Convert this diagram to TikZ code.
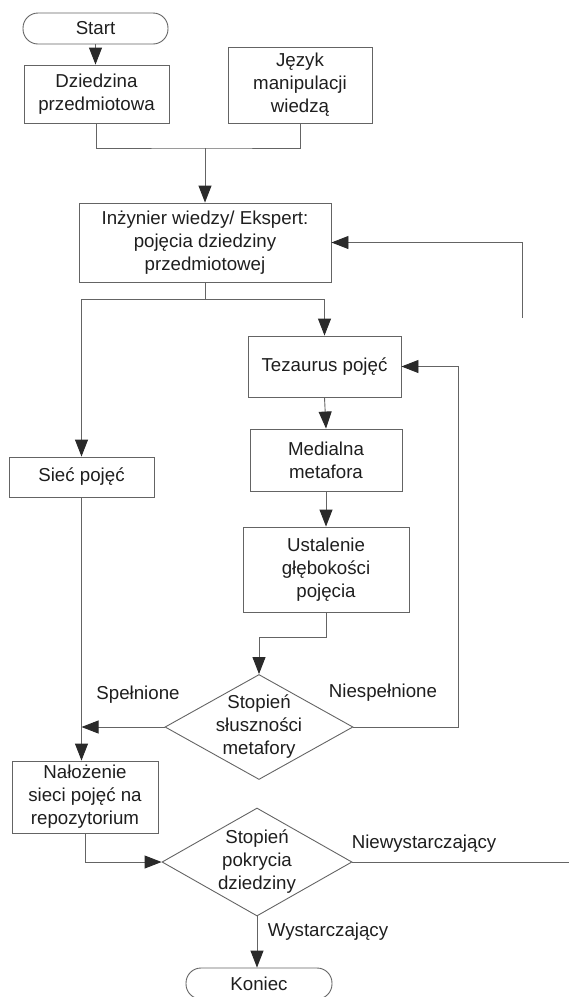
\documentclass[tikz,border=0pt]{standalone}
\usepackage{fontspec}
\setmainfont{Liberation Sans}
\usetikzlibrary{arrows.meta,shapes.geometric}
\definecolor{linec}{HTML}{646464}
\definecolor{textc}{HTML}{1E1E1E}
\definecolor{tipc}{HTML}{2A2A2A}
\begin{document}
\begin{tikzpicture}[x=1pt,y=-1pt,
  every node/.style={text=textc, font=\fontsize{18.7}{23}\selectfont},
  box/.style={draw=linec, line width=0.9pt, rectangle, inner sep=0pt, align=center},
  term/.style={box, rounded corners=15pt},
  dec/.style={draw=linec, line width=0.9pt, diamond, shape aspect=1.8, inner sep=0pt},
  lbl/.style={inner sep=0pt, align=center},
  conn/.style={draw=linec, line width=0.9pt},
  arr/.style={conn, -{Triangle[length=17pt,width=13pt,color=tipc]}}
]
\useasboundingbox (0,0) rectangle (569,997);

% process boxes and terminals
\node[term, minimum width=145pt, minimum height=31pt] (start) at (95.5,28.5) {Start};
\node[box, minimum width=145pt, minimum height=58pt] (dz) at (96.5,94) {Dziedzina\\przedmiotowa};
\node[box, minimum width=144pt, minimum height=76pt] (jez) at (300,85) {Język\\manipulacji\\wiedzą};
\node[box, minimum width=252pt, minimum height=79pt] (inz) at (205,242.5) {Inżynier wiedzy/ Ekspert:\\pojęcia dziedziny\\przedmiotowej};
\node[box, minimum width=153pt, minimum height=61pt] (tez) at (324.5,366.5) {Tezaurus pojęć};
\node[box, minimum width=152pt, minimum height=62pt] (med) at (326,460) {Medialna\\metafora};
\node[box, minimum width=166pt, minimum height=85pt] (ust) at (326,569.5) {Ustalenie\\głębokości\\pojęcia};
\node[box, minimum width=145pt, minimum height=40pt] (siec) at (81.5,477) {Sieć pojęć};
\node[box, minimum width=146pt, minimum height=72pt] (nal) at (85,797) {Nałożenie\\sieci pojęć na\\repozytorium};
\node[term, minimum width=146pt, minimum height=31pt] (kon) at (259,983.5) {Koniec};

% decisions
\node[dec, minimum width=188pt, minimum height=105pt] (d1) at (259,727) {};
\node[lbl] (d1t) at (d1.center) {Stopień\\słuszności\\metafory};
\node[dec, minimum width=190pt, minimum height=108pt] (d2) at (257,862) {};
\node[lbl] (d2t) at (d2.center) {Stopień\\pokrycia\\dziedziny};

% branch labels
\node[lbl] (lsp) at (138,695) {Spełnione};
\node[lbl] (lnsp) at (383,693) {Niespełnione};
\node[lbl] (lnw) at (424,844) {Niewystarczający};
\node[lbl] (lw) at (328,932) {Wystarczający};

% junction points
\coordinate (m1) at (205,148);
\coordinate (m2) at (205,299);
\coordinate (m3) at (326,637);
\coordinate (m4) at (458,727);
\coordinate (fb) at (522,318);
\coordinate (nw) at (569,862);

% connectors
\draw[arr] (start.south) -- (start.south |- dz.north);
\draw[conn] (dz.south) |- (m1) -| (jez.south);
\draw[arr] (m1) -- (inz.north);
\draw[conn] (inz.south) -- (m2);
\draw[arr] (m2) -| (siec.north);
\draw[arr] (m2) -| (tez.north);
\draw[arr] (fb) |- (inz.east);
\draw[arr] (tez.south) -- (med.north);
\draw[arr] (med.south) -- (ust.north);
\draw[arr] (ust.south) -- (m3) -| (d1.north);
\draw[arr] (d1.east) -- (m4) |- (tez.east);
\draw[arr] (d1.west) -- (d1.west -| siec.south);
\draw[arr] (siec.south) -- (siec.south |- nal.north);
\draw[arr] (nal.south) |- (d2.west);
\draw[conn] (d2.east) -- (nw);
\draw[arr] (d2.south) -- (d2.south |- kon.north);
\end{tikzpicture}
\end{document}
